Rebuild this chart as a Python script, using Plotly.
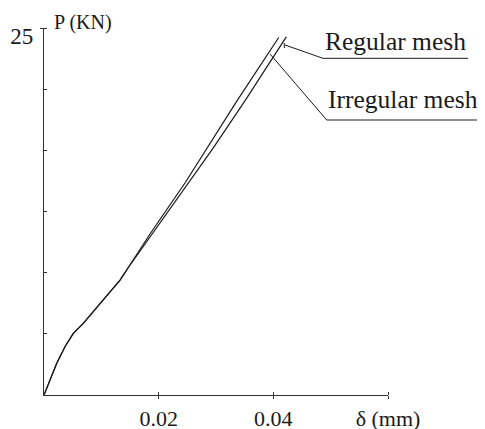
import plotly.graph_objects as go

# Load-displacement data
irregular_delta = [0, 0.00105, 0.00222, 0.00366, 0.00511, 0.00685, 0.0086, 0.01094,
                   0.01326, 0.01465, 0.01849, 0.02459, 0.03377, 0.04094]
irregular_P = [0, 1.02, 2.16, 3.29, 4.20, 4.88, 5.68, 6.70,
               7.83, 8.65, 10.97, 14.44, 20.10, 24.35]

regular_delta = [0, 0.00105, 0.00222, 0.00366, 0.00511, 0.00685, 0.0086, 0.01094,
                 0.01326, 0.01465, 0.01985, 0.02519, 0.02953, 0.03516, 0.04226]
regular_P = [0, 1.02, 2.16, 3.29, 4.20, 4.88, 5.68, 6.70,
             7.83, 8.65, 11.51, 14.44, 16.83, 20.10, 24.39]

x_tickvals = [0, 0.02, 0.04, 0.06]
x_ticktext = ["", "0.02", "0.04", "δ (mm)"]
y_tickvals = [0, 25/6, 50/6, 75/6, 100/6, 125/6, 25]
y_ticktext = ["", "", "", "", "", "", "25"]

FONT = "Liberation Serif"
INK = "#1a1a1a"

fig = go.Figure()
fig.add_trace(go.Scatter(x=irregular_delta, y=irregular_P, mode="lines",
                         line=dict(color=INK, width=1.2), name="Irregular mesh",
                         showlegend=False))
fig.add_trace(go.Scatter(x=regular_delta, y=regular_P, mode="lines",
                         line=dict(color=INK, width=1.2), name="Regular mesh",
                         showlegend=False))

# The page body has an 8px default margin, so the figure is drawn 8px in.
fig.update_layout(
    width=477, height=421,
    margin=dict(l=36, r=97, t=20, b=34),
    paper_bgcolor="white", plot_bgcolor="white",
    font=dict(family=FONT, color=INK),
    xaxis=dict(range=[0, 0.06], tickvals=x_tickvals, ticktext=x_ticktext,
               automargin=False,
               showline=True, linecolor="#333", linewidth=1.2,
               ticks="outside", ticklen=3, tickcolor="#333",
               minor=dict(tickvals=x_tickvals, ticks="inside", ticklen=3, tickcolor="#333"),
               showgrid=False, zeroline=False,
               tickfont=dict(family=FONT, size=22, color=INK)),
    yaxis=dict(range=[0, 25], tickvals=y_tickvals, ticktext=y_ticktext,
               automargin=False, ticklabelshift=8, ticklabelstandoff=2,
               showline=True, linecolor="#333", linewidth=1.2,
               ticks="outside", ticklen=3, tickcolor="#333",
               minor=dict(tickvals=y_tickvals, ticks="inside", ticklen=3, tickcolor="#333"),
               showgrid=False, zeroline=False,
               tickfont=dict(family=FONT, size=23, color=INK)),
)

# Title of y axis
fig.add_annotation(text="P (KN)", xref="paper", yref="paper", x=0.023, y=1.016,
                   xanchor="left", yanchor="middle", showarrow=False,
                   font=dict(family=FONT, size=20, color=INK))

# Legend labels with leader lines
fig.add_annotation(text="Regular mesh", xref="paper", yref="paper", x=0.81, y=0.962,
                   xanchor="left", yanchor="middle", showarrow=False,
                   font=dict(family=FONT, size=25.5, color=INK))
fig.add_annotation(text="Irregular mesh", xref="paper", yref="paper", x=0.82, y=0.804,
                   xanchor="left", yanchor="middle", showarrow=False,
                   font=dict(family=FONT, size=25.5, color=INK))

leader = dict(color=INK, width=1)
fig.add_shape(type="path", xref="paper", yref="paper",
              path="M 0.7006 0.9537 L 0.8110 0.9174 L 1.2326 0.9174", line=leader)
fig.add_shape(type="line", xref="paper", yref="paper",
              x0=0.6985, y0=0.9591, x1=0.6985, y1=0.9455, line=leader)
fig.add_shape(type="path", xref="paper", yref="paper",
              path="M 0.657 0.9292 L 0.8218 0.7493 L 1.282 0.7493", line=leader)

fig.write_html("out.html")
